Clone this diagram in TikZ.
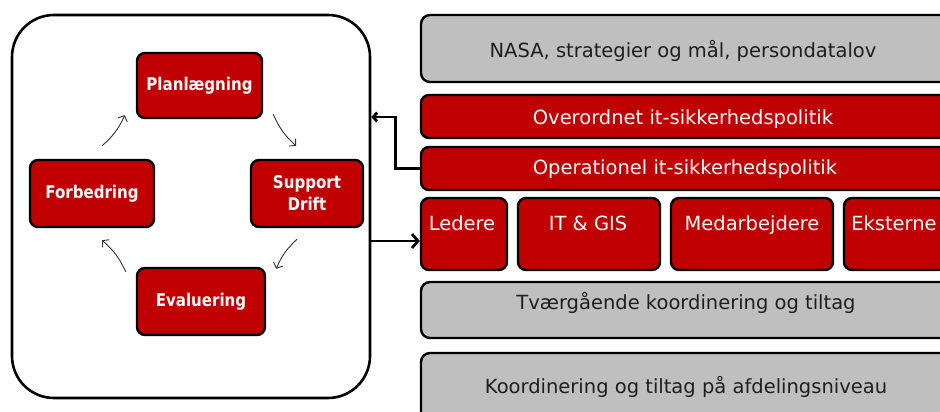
\documentclass[tikz,border=0pt]{standalone}
\usepackage{fontspec}
\setmainfont{DejaVu Sans}[BoldFeatures={FakeStretch=0.86}]
\usetikzlibrary{arrows.meta}
\definecolor{dred}{HTML}{C00000}
\definecolor{lgray}{HTML}{BFBFBF}
\definecolor{dtext}{HTML}{1E1E1E}
\begin{document}
\begin{tikzpicture}[x=1pt,y=-1pt,
  bigbox/.style={draw=black,line width=2.6pt,rounded corners=42pt,fill=white,inner sep=0pt},
  cycbox/.style={draw=black,line width=2.4pt,rounded corners=8pt,fill=dred,text=white,font=\bfseries\fontsize{17.5}{21}\selectfont,align=center,inner sep=0pt},
  redbar/.style={draw=black,line width=2.4pt,rounded corners=8pt,fill=dred,inner sep=0pt},
  graybar/.style={draw=black,line width=2.4pt,rounded corners=9pt,fill=lgray,inner sep=0pt},
  wtext/.style={text=white,font=\fontsize{19.5}{23}\selectfont,inner sep=0pt,text height=14.2pt,text depth=4.6pt},
  gtext/.style={text=dtext,font=\fontsize{19.5}{23}\selectfont,inner sep=0pt,text height=14.2pt,text depth=4.6pt},
  cyc/.style={draw=black!80,line width=0.9pt,-{Straight Barb[length=4.5pt,width=10pt]}},
  bigarrow/.style={draw=black,line width=2.8pt}]
\clip (0,0) rectangle (940,412);
\fill[white] (0,0) rectangle (940,412);
% left cycle
\node[bigbox,minimum width=358pt,minimum height=383pt] (big) at (191,206.5) {};
\node[cycbox,minimum width=125pt,minimum height=65pt] (plan) at (199.5,85.5) {Planlægning};
\node[cycbox,minimum width=112pt,minimum height=67pt] (supp) at (307,193.5) {Support\\[1pt]Drift};
\node[cycbox,minimum width=124pt,minimum height=67pt] (forb) at (92,193.5) {Forbedring};
\node[cycbox,minimum width=128pt,minimum height=67pt] (eval) at (201,301.5) {Evaluering};
\draw[cyc] ([xshift=10pt,yshift=13pt]forb.north) to[bend right=12] ([xshift=-11pt,yshift=4pt]plan.south west);
\draw[cyc] ([xshift=10pt,yshift=5pt]plan.south east) to[bend right=12] ([xshift=-11pt,yshift=13pt]supp.north);
\draw[cyc] ([xshift=-10pt,yshift=-11pt]supp.south) to[bend right=12] ([xshift=10pt,yshift=-2pt]eval.north east);
\draw[cyc] ([xshift=-10pt,yshift=-5pt]eval.north west) to[bend right=12] ([xshift=10pt,yshift=-12pt]forb.south);
% right stack
\node[graybar,minimum width=528pt,minimum height=67pt] (nasa) at (685,48.5) {};
\node[gtext] (tnasa) at (683,53) {NASA, strategier og mål, persondatalov};
\node[redbar,minimum width=528pt,minimum height=43pt] (over) at (685,116.5) {};
\node[wtext] (tover) at (683,120) {Overordnet it-sikkerhedspolitik};
\node[redbar,minimum width=528pt,minimum height=43pt] (oper) at (685,168.5) {};
\node[wtext] (toper) at (685,170) {Operationel it-sikkerhedspolitik};
\node[redbar,minimum width=86pt,minimum height=72pt] (led) at (464,234) {};
\node[wtext] (tled) at (462,225.5) {Ledere};
\node[redbar,minimum width=142pt,minimum height=72pt] (itg) at (589,234) {};
\node[wtext] (titg) at (588,225.5) {IT \& GIS};
\node[redbar,minimum width=162pt,minimum height=72pt] (med) at (752,234) {};
\node[wtext] (tmed) at (752,225.5) {Medarbejdere};
\node[redbar,minimum width=102pt,minimum height=72pt] (eks) at (895,234) {};
\node[wtext] (teks) at (894,225.5) {Eksterne};
\node[graybar,minimum width=528pt,minimum height=56pt] (tvar) at (685,310) {};
\node[gtext] (ttvar) at (686,305) {Tværgående koordinering og tiltag};
\node[graybar,minimum width=528pt,minimum height=80pt] (koor) at (685,393) {};
\node[gtext] (tkoor) at (686,389) {Koordinering og tiltag på afdelingsniveau};
% connectors
\draw[bigarrow,-{Straight Barb[length=4pt,width=9pt]}] (oper.west) -- ++(-24,0) |- ([yshift=89.5pt]big.east);
\draw[bigarrow,-{Straight Barb[length=6pt,width=14pt]}] ([yshift=-34.5pt]big.east) -- ([yshift=-7pt]led.west);
\end{tikzpicture}
\end{document}
